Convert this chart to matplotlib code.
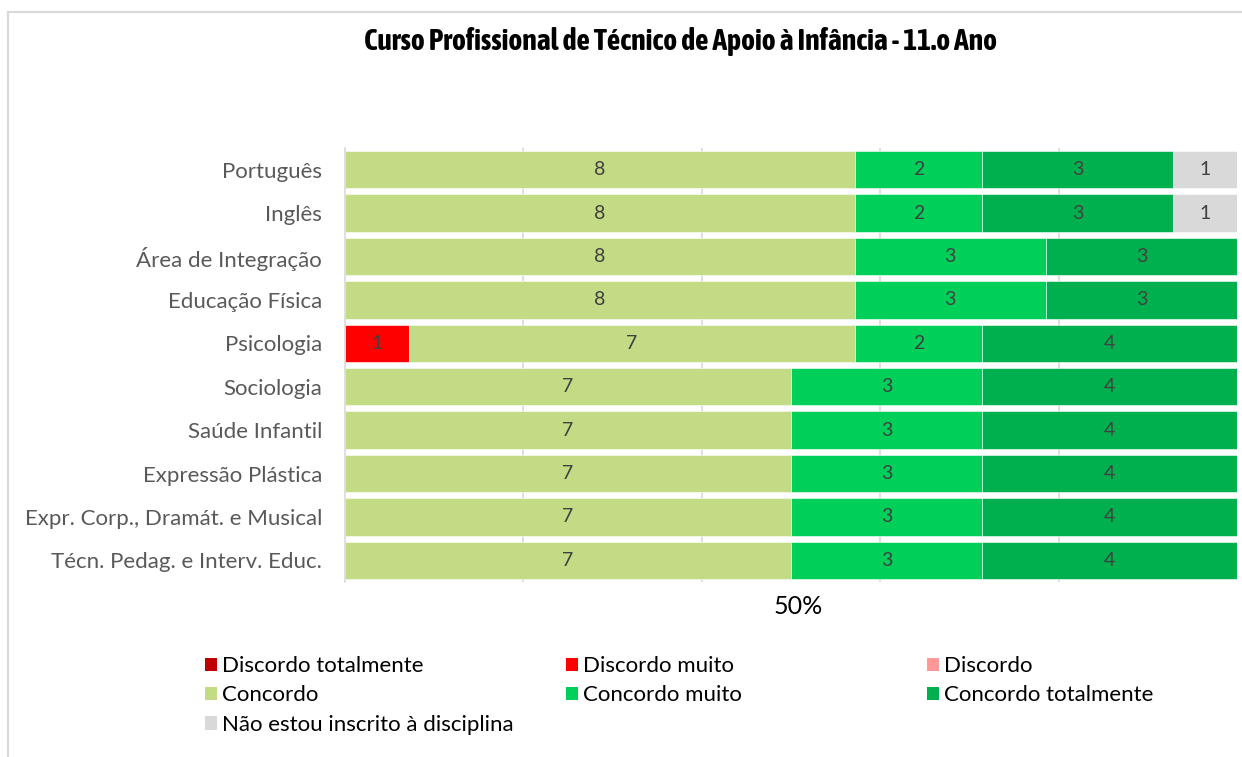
import matplotlib.pyplot as plt
from matplotlib import font_manager
from matplotlib.lines import Line2D
from matplotlib.patches import Patch
from matplotlib.transforms import ScaledTranslation
import numpy as np

# dados do gráfico (contagens por disciplina)
disciplinas = [
    "Português", "Inglês", "Área de Integração", "Educação Física", "Psicologia",
    "Sociologia", "Saúde Infantil", "Expressão Plástica",
    "Expr. Corp., Dramát. e Musical", "Técn. Pedag. e Interv. Educ.",
]
categorias = [
    "Discordo totalmente", "Discordo muito", "Discordo", "Concordo",
    "Concordo muito", "Concordo totalmente", "Não estou inscrito à disciplina",
]
cores = ["#C00000", "#FF0000", "#FF9999", "#C3DB84", "#00D05A", "#00B04E", "#D9D9D9"]

discordo_totalmente = [0, 0, 0, 0, 0, 0, 0, 0, 0, 0]
discordo_muito = [0, 0, 0, 0, 1, 0, 0, 0, 0, 0]
discordo = [0, 0, 0, 0, 0, 0, 0, 0, 0, 0]
concordo = [8, 8, 8, 8, 7, 7, 7, 7, 7, 7]
concordo_muito = [2, 2, 3, 3, 2, 3, 3, 3, 3, 3]
concordo_totalmente = [3, 3, 3, 3, 4, 4, 4, 4, 4, 4]
nao_inscrito = [1, 1, 0, 0, 0, 0, 0, 0, 0, 0]

series = [discordo_totalmente, discordo_muito, discordo, concordo,
          concordo_muito, concordo_totalmente, nao_inscrito]

plt.rcParams["font.family"] = ["Lato", "DejaVu Sans"]


def fonte_estreita():
    """Procura uma família condensada instalada para o título."""
    for f in font_manager.fontManager.ttflist:
        nome = f.name
        if ("Condensed" in nome or "Narrow" in nome) and f.weight in ("bold", 700):
            return nome, "normal"
    for f in font_manager.fontManager.ttflist:
        if f.stretch in ("condensed", "semi-condensed", 400) and f.weight in ("bold", 700):
            return f.name, f.stretch
    return "DejaVu Sans", "normal"


fig = plt.figure(figsize=(12.42, 7.57), dpi=100)
ax = fig.add_axes([345 / 1242, 1 - 582 / 757, 892 / 1242, 434 / 757])

valores = np.array(series, dtype=float)
totais = valores.sum(axis=0)
y = np.arange(len(disciplinas))
esquerda = np.zeros(len(disciplinas))

for serie, cor in zip(valores, cores):
    frac = serie / totais
    ax.barh(y, frac, left=esquerda, height=0.86, color=cor,
            edgecolor="white", linewidth=0.4, zorder=2)
    for i, (v, f) in enumerate(zip(serie, frac)):
        if v > 0:
            ax.text(esquerda[i] + f / 2, y[i], f"{int(v)}", ha="center",
                    va="center", fontsize=14, color="#404040", zorder=3)
    esquerda += frac

ax.set_xlim(0, 1)
ax.set_ylim(len(disciplinas) - 0.5, -0.5)
ax.set_yticks(y)
ax.set_yticklabels(disciplinas, fontsize=16, color="#595959")
ax.set_xticks([0.5])
ax.set_xticklabels(["50%"], fontsize=18, color="#000000")
ax.tick_params(axis="both", which="both", length=0)
ax.tick_params(axis="y", pad=16.5)
ax.tick_params(axis="x", pad=9)
for rotulo in ax.get_xticklabels():
    rotulo.set_transform(rotulo.get_transform() + ScaledTranslation(0.07, 0, fig.dpi_scale_trans))
ax.grid(False)
for xv in [0.2, 0.4, 0.6, 0.8]:
    ax.axvline(xv, color="#D9D9D9", linewidth=1.2, zorder=1)
for lado in ["top", "right", "bottom"]:
    ax.spines[lado].set_visible(False)
ax.spines["left"].set_color("#D9D9D9")
ax.spines["left"].set_linewidth(1.2)

nome_titulo, esticar = fonte_estreita()
titulo = fig.text(680 / 1242, 1 - 42 / 757,
                  "Curso Profissional de Técnico de Apoio à Infância - 11.o Ano",
                  ha="center", va="center", fontsize=24, fontweight="bold",
                  fontstretch=esticar, family=[nome_titulo, "DejaVu Sans"], color="black")
# ajusta o tamanho para a largura do título original (~635 px)
fig.canvas.draw()
largura = titulo.get_window_extent().width
titulo.set_fontsize(max(16, min(30, 24 * 635 / largura)))

# legenda em três colunas
handles = [Patch(facecolor=c, edgecolor="none") for c in cores]
colunas = [[0, 3, 6], [1, 4], [2, 5]]
xs = [194, 555, 916]
for idx, x0 in zip(colunas, xs):
    fig.legend([handles[i] for i in idx], [categorias[i] for i in idx],
               loc="upper left", bbox_to_anchor=(x0 / 1242, 1 - 645 / 757),
               frameon=False, fontsize=16, handlelength=0.55, handleheight=0.55,
               handletextpad=0.2, labelspacing=0.42, borderpad=0)

# moldura parcial do gráfico
fig.add_artist(Line2D([7.5 / 1242, 1], [1 - 11.5 / 757, 1 - 11.5 / 757],
                      transform=fig.transFigure, color="#D9D9D9", linewidth=1.5))
fig.add_artist(Line2D([7.5 / 1242, 7.5 / 1242], [0, 1 - 11.5 / 757],
                      transform=fig.transFigure, color="#D9D9D9", linewidth=1.5))

fig.savefig("out.png", dpi=100)
